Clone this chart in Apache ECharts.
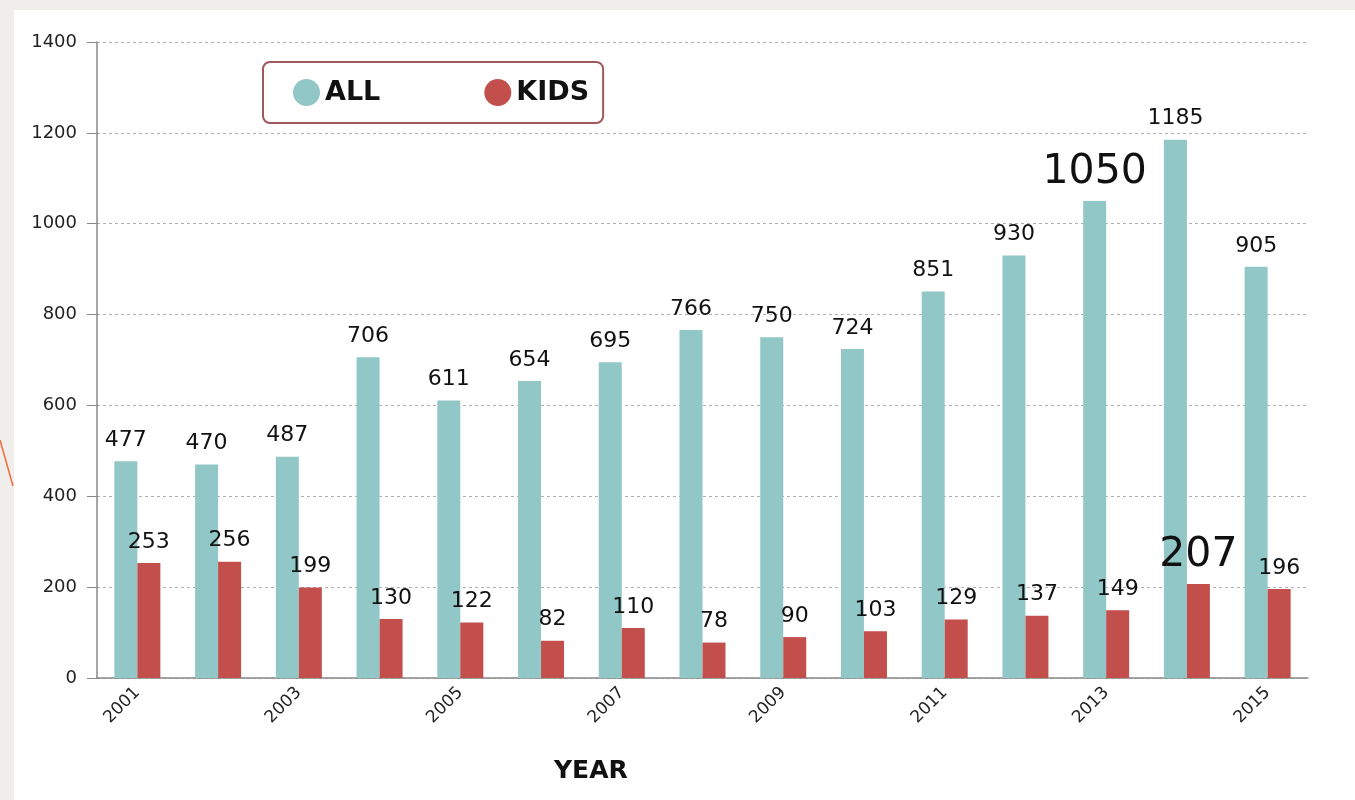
<!DOCTYPE html>
<html>
<head>
<meta charset="utf-8">
<script src="https://cdn.jsdelivr.net/npm/echarts@6/dist/echarts.min.js"></script>
<style>
html,body{margin:0;padding:0;background:#efeeea;}
#c{width:1355px;height:800px;}
</style>
</head>
<body>
<div id="c"></div>
<script>
const years = ['2001','2002','2003','2004','2005','2006','2007','2008','2009','2010','2011','2012','2013','2014','2015'];
const allValues = [477,470,487,706,611,654,695,766,750,724,851,930,1050,1185,905];
const kidsValues = [253,256,199,130,122,82,110,78,90,103,129,137,149,207,196];
const yTicks = [0,200,400,600,800,1000,1200,1400];
const bigAllIndex = 12;
const bigKidsIndex = 13;

const font = 'DejaVu Sans';
function items(vals, bigIdx) {
  return vals.map((v, i) => i === bigIdx
    ? { value: v, label: { fontSize: 41, distance: 8 } }
    : v);
}

const chart = echarts.init(document.getElementById('c'));
chart.setOption({
  animation: false,
  textStyle: { fontFamily: font },
  graphic: [
    { type: 'rect', z: -10, left: 14, top: 10, shape: { width: 1341, height: 790 }, style: { fill: '#ffffff' } },
    { type: 'line', z: -5, shape: { x1: 0, y1: 440, x2: 13, y2: 486 }, style: { stroke: '#f26b3a', lineWidth: 1.5 } },
    { type: 'text', left: 554, top: 759, style: { text: 'YEAR', font: 'bold 25px "DejaVu Sans"', fill: '#111' } }
  ],
  legend: {
    left: 263, top: 62,
    padding: [17, 14, 17, 30],
    borderColor: '#a0585b', borderWidth: 2, borderRadius: 7,
    backgroundColor: '#fff',
    itemWidth: 27, itemHeight: 27, itemGap: 104,
    icon: 'circle',
    textStyle: { fontSize: 27, fontWeight: 'bold', color: '#111', fontFamily: font },
    data: ['ALL', 'KIDS']
  },
  grid: { left: 97, right: 47, top: 42, bottom: 122 },
  xAxis: {
    type: 'category',
    data: years,
    axisLine: { lineStyle: { color: '#888', width: 1.5 } },
    axisTick: { show: false },
    axisLabel: { interval: 1, rotate: 45, fontSize: 17, color: '#222', margin: 12, fontFamily: font }
  },
  yAxis: {
    type: 'value',
    min: yTicks[0], max: yTicks[yTicks.length - 1], interval: 200,
    axisLine: { show: true, lineStyle: { color: '#888', width: 1.5 } },
    axisTick: { show: true, length: 10, lineStyle: { color: '#888' } },
    axisLabel: { fontSize: 18, color: '#222', margin: 20, fontFamily: font, formatter: v => String(v) },
    splitLine: { lineStyle: { type: [3, 3], color: '#b0b0b0', width: 1 } }
  },
  series: [
    {
      name: 'ALL', type: 'bar', barWidth: 23, barGap: '0%',
      itemStyle: { color: '#92c7c8' },
      label: { show: true, position: 'top', distance: 10, fontSize: 22, color: '#111', fontFamily: font },
      data: items(allValues, bigAllIndex)
    },
    {
      name: 'KIDS', type: 'bar', barWidth: 23, barGap: '0%',
      itemStyle: { color: '#c24f4c' },
      label: { show: true, position: 'top', distance: 10, fontSize: 22, color: '#111', fontFamily: font },
      data: items(kidsValues, bigKidsIndex)
    }
  ]
});
</script>
</body>
</html>
